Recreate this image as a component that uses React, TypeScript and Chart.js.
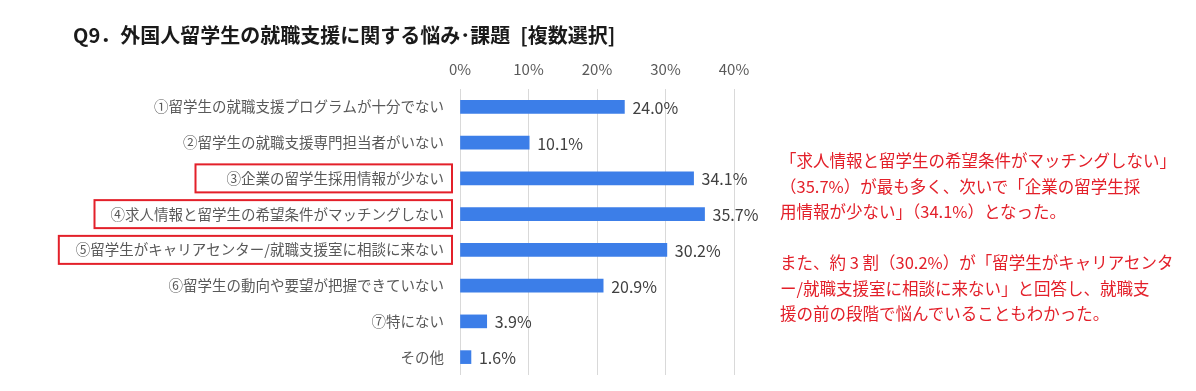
import React, { useEffect, useRef } from "react";
import { Chart, registerables } from "chart.js";

Chart.register(...registerables);

const FONT = "'Noto Sans CJK JP', 'Noto Sans', sans-serif";

const titleText = "Q9．外国人留学生の就職支援に関する悩み･課題\u2002[複数選択]";

const categories = [
  "①留学生の就職支援プログラムが十分でない",
  "②留学生の就職支援専門担当者がいない",
  "③企業の留学生採用情報が少ない",
  "④求人情報と留学生の希望条件がマッチングしない",
  "⑤留学生がキャリアセンター/就職支援室に相談に来ない",
  "⑥留学生の動向や要望が把握できていない",
  "⑦特にない",
  "その他",
];

const values = [24.0, 10.1, 34.1, 35.7, 30.2, 20.9, 3.9, 1.6];

const xTickValues = [0, 10, 20, 30, 40];

const highlighted = [2, 3, 4];
const highlightPads = [31, 16, 17];

const noteParagraph1 = [
  "「求人情報と留学生の希望条件がマッチングしない」",
  "（35.7%）が最も多く、次いで「企業の留学生採",
  "用情報が少ない」（34.1%）となった。",
];
const noteParagraph2 = [
  "また、約 3 割（30.2%）が「留学生がキャリアセンタ",
  "ー/就職支援室に相談に来ない」と回答し、就職支",
  "援の前の段階で悩んでいることもわかった。",
];

const BAR_COLOR = "#3c7ee8";
const LABEL_COLOR = "#595959";
const VALUE_COLOR = "#404040";
const RED = "#e3202a";

const valueLabelPlugin = {
  id: "valueLabels",
  afterDatasetsDraw(chart: any) {
    const ctx = chart.ctx;
    const meta = chart.getDatasetMeta(0);
    ctx.save();
    ctx.font = `16px ${FONT}`;
    ctx.fillStyle = VALUE_COLOR;
    ctx.textAlign = "left";
    ctx.textBaseline = "middle";
    meta.data.forEach((bar: any, i: number) => {
      ctx.fillText(values[i].toFixed(1) + "%", bar.x + 8, bar.y + 1);
    });
    ctx.restore();
  },
};

const boxPlugin = {
  id: "highlightBoxes",
  afterDraw(chart: any) {
    const ctx = chart.ctx;
    const y = chart.scales.y;
    const area = chart.chartArea;
    ctx.save();
    ctx.font = `14.5px ${FONT}`;
    ctx.strokeStyle = RED;
    ctx.lineWidth = 2;
    highlighted.forEach((idx, k) => {
      const cy = y.getPixelForValue(idx);
      const w = ctx.measureText(categories[idx]).width;
      const textRight = area.left - 16;
      const left = textRight - w - highlightPads[k];
      const right = area.left - 8;
      ctx.strokeRect(left, cy - 14, right - left, 28);
    });
    ctx.restore();
  },
};

export default function App() {
  const ref = useRef<HTMLCanvasElement>(null);

  useEffect(() => {
    if (!ref.current) return;
    const chart = new Chart(ref.current, {
      type: "bar",
      data: {
        labels: categories,
        datasets: [
          {
            data: values,
            backgroundColor: BAR_COLOR,
            barThickness: 13,
          },
        ],
      },
      options: {
        indexAxis: "y",
        responsive: false,
        maintainAspectRatio: false,
        animation: false,
        layout: { padding: { left: 0, right: 462, top: 0, bottom: 16 } },
        plugins: {
          legend: { display: false },
          tooltip: { enabled: false },
          title: { display: false },
        },
        scales: {
          x: {
            position: "top",
            min: xTickValues[0],
            max: xTickValues[xTickValues.length - 1],
            afterBuildTicks: (s: any) => {
              s.ticks = xTickValues.map((v) => ({ value: v }));
            },
            ticks: {
              callback: (v: any) => v + "%",
              color: LABEL_COLOR,
              font: { family: FONT, size: 15 },
              padding: 11,
            },
            grid: { color: "#d9d9d9", drawTicks: false, lineWidth: 1 },
            border: { display: false },
            afterFit: (s: any) => {
              s.height = 89;
              s.paddingLeft = 0;
              s.paddingRight = 0;
            },
          },
          y: {
            ticks: {
              color: LABEL_COLOR,
              font: { family: FONT, size: 14.5 },
              padding: 16,
            },
            grid: { display: false, drawTicks: false },
            border: { display: false },
            afterFit: (s: any) => {
              s.width = 460;
              s.paddingTop = 0;
              s.paddingBottom = 0;
            },
          },
        },
      } as any,
      plugins: [valueLabelPlugin, boxPlugin],
    });
    return () => chart.destroy();
  }, []);

  return (
    <div
      style={{
        position: "absolute",
        left: 0,
        top: 0,
        width: 1196,
        height: 391,
        background: "#ffffff",
        overflow: "hidden",
        fontFamily: FONT,
      }}
    >
      <canvas ref={ref} width={1196} height={391} style={{ position: "absolute", left: 0, top: 0 }} />
      <div
        style={{
          position: "absolute",
          left: 73,
          top: 22,
          fontSize: 20,
          lineHeight: "26px",
          fontWeight: 700,
          color: "#1a1a1a",
          whiteSpace: "nowrap",
        }}
      >
        {titleText}
      </div>
      <div
        style={{
          position: "absolute",
          left: 780,
          top: 148,
          fontSize: 16.5,
          lineHeight: "25.5px",
          color: RED,
          whiteSpace: "nowrap",
        }}
      >
        {noteParagraph1.map((l, i) => (
          <div key={"a" + i}>{l}</div>
        ))}
        <div>&nbsp;</div>
        {noteParagraph2.map((l, i) => (
          <div key={"b" + i}>{l}</div>
        ))}
      </div>
    </div>
  );
}
